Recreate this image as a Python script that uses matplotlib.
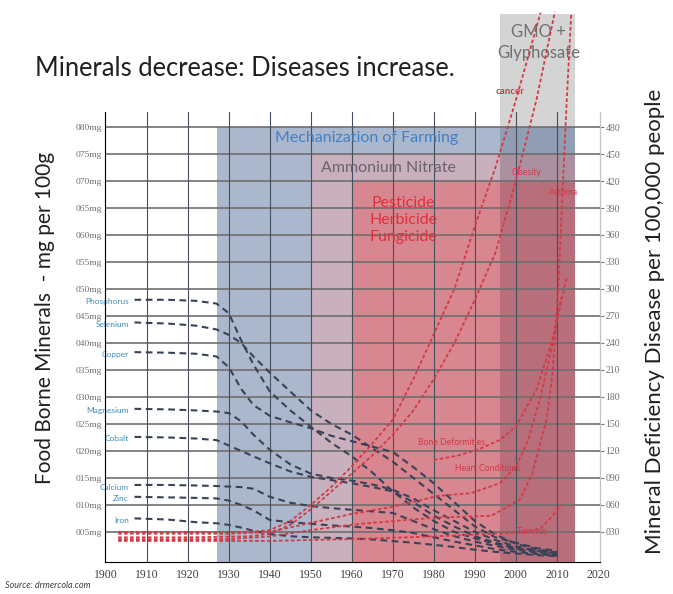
import numpy as np
import matplotlib
import matplotlib.pyplot as plt

matplotlib.use("Agg")

# ---- data ----
decade_ticks = [1900, 1910, 1920, 1930, 1940, 1950, 1960, 1970, 1980, 1990, 2000, 2010, 2020]
mg_ticks = [5, 10, 15, 20, 25, 30, 35, 40, 45, 50, 55, 60, 65, 70, 75, 80]
mg_labels = ["%03dmg" % v for v in mg_ticks]
disease_ticks = [30, 60, 90, 120, 150, 180, 210, 240, 270, 300, 330, 360, 390, 420, 450, 480]
disease_labels = ["%03d" % v for v in disease_ticks]

# eras: (start year, end year, top in mg)
era_names = ["Mechanization of Farming", "Ammonium Nitrate", "Pesticide\nHerbicide\nFungicide"]
era_start = [1927, 1950, 1960]
era_end = [2014.4, 2014.4, 2014.4]
era_top = [80, 75, 70]
era_colors = ["#abb7cc", "#c8b0bc", "#d8868f"]
gmo_start, gmo_end, gmo_top = 1996, 2014.4, 101
gmo_colors = ["#919db3", "#ab919f", "#b96e7b"]  # over each era band

mineral_years = [1907, 1915, 1922, 1927, 1930, 1933, 1936, 1940, 1945, 1950, 1955,
                 1960, 1965, 1970, 1975, 1980, 1985, 1990, 1995, 2000, 2005, 2010]
phosphorus = [48, 48, 47.8, 47.3, 45.5, 40.5, 36, 31, 27.5, 24.5, 21.5, 19, 16, 12.5, 9.5, 7, 5, 3.8, 2.8, 2, 1.5, 1.2]
selenium = [43.8, 43.6, 43.2, 42.5, 41.5, 40, 37.5, 34.5, 31, 27.5, 25, 23, 20.5, 18, 15, 12, 9, 6, 4, 3, 2, 1.5]
copper = [38.3, 38.2, 38, 37.5, 35.5, 31.5, 28.5, 26.5, 25.3, 24.2, 22.8, 21.8, 20.8, 19.8, 17, 14, 10.5, 7, 4.5, 2.8, 1.8, 1.2]
magnesium = [27.8, 27.7, 27.5, 27.3, 27, 25.5, 23, 20.2, 17.5, 15.8, 15, 14.5, 13.8, 12.8, 11.2, 9, 7, 5, 3.5, 2.3, 1.5, 1]
cobalt = [22.6, 22.5, 22.3, 22, 21, 20, 19, 17.7, 16.2, 15.2, 14.6, 14, 13.3, 12.5, 10.5, 8, 6, 4.2, 3, 2, 1.3, 0.9]
calcium = [13.7, 13.7, 13.6, 13.5, 13.4, 13.3, 13, 11.5, 10.4, 9.8, 9.4, 9.1, 8.8, 8.5, 7, 5.5, 4.2, 3.2, 2.4, 1.7, 1.2, 0.8]
zinc = [11.5, 11.4, 11.3, 11.2, 10.8, 10, 9, 7.2, 6.8, 6.5, 6.2, 6, 5.7, 5.3, 4.8, 4, 3.2, 2.5, 1.8, 1.3, 0.9, 0.6]
iron = [7.5, 7.3, 6.8, 6.6, 6.3, 5.8, 5.2, 4.6, 4.2, 4, 3.9, 3.8, 3.6, 3.3, 3, 2.6, 2.2, 1.7, 1.3, 1, 0.7, 0.5]
mineral_names = ["Phosphorus", "Selenium", "Copper", "Magnesium", "Cobalt", "Calcium", "Zinc", "Iron"]
mineral_values = [phosphorus, selenium, copper, magnesium, cobalt, calcium, zinc, iron]

# diseases per 100,000 people (right axis)
cancer_years = [1903, 1920, 1935, 1940, 1945, 1950, 1955, 1960, 1965, 1970, 1975, 1980, 1985, 1990, 1995, 2000, 2006]
cancer = [30, 30, 30, 32, 42, 60, 80, 103, 128, 155, 200, 250, 300, 370, 435, 510, 607]
obesity_years = [1903, 1920, 1935, 1940, 1945, 1950, 1955, 1960, 1965, 1970, 1975, 1980, 1985, 1990, 1995, 2000, 2005, 2009.5]
obesity = [24, 24, 25, 28, 38, 55, 75, 95, 115, 138, 165, 200, 240, 288, 340, 420, 510, 608]
asthma_years = [1903, 1930, 1940, 1950, 1960, 1970, 1981, 1994, 1998, 2001, 2004, 2006, 2007.5, 2009, 2010.3, 2011.3, 2012.4, 2013.5]
asthma = [22, 22, 25, 32, 38, 42, 46, 48, 58, 66, 95, 130, 155, 210, 300, 400, 510, 607]
heart_years = [1903, 1930, 1940, 1950, 1960, 1970, 1981, 1989, 1996, 2000, 2003, 2006, 2009, 2011]
heart = [28, 28, 30, 40, 50, 58, 70, 73, 84, 102, 132, 180, 240, 290]
bone_years = [1980, 1986, 1991, 1996, 2000, 2005, 2009, 2012.4]
bone = [110, 115, 122, 132, 147, 188, 245, 313]
tinnitus_years = [1903, 1940, 1960, 1980, 1995, 2003, 2006, 2009, 2011]
tinnitus = [20, 20, 22, 25, 28, 30, 34, 48, 60]
disease_years = [cancer_years, obesity_years, asthma_years, heart_years, bone_years, tinnitus_years]
disease_values = [cancer, obesity, asthma, heart, bone, tinnitus]
disease_names = ["cancer", "Obesity", "Asthma", "Heart Conditions", "Bone Deformities", "Tinnitus"]
disease_label_pos = [(1998.5, 519), (2002.7, 429), (2011.5, 407), (1993.2, 101), (1984.4, 129), (2003.9, 30)]

fig = plt.figure(figsize=(6.73, 5.94), dpi=100)
ax = fig.add_axes([0.156, 0.054, 0.7355, 0.7576])
ax.set_xlim(1899.8, 2020.5)
ax.set_ylim(-0.56, 82.8)

# shaded eras
for s, e, top, c in zip(era_start, era_end, era_top, era_colors):
    ax.fill_between([s, e], -0.56, top, color=c, lw=0, zorder=0)
ax.fill_between([gmo_start, gmo_end], -0.56, era_top[2], color=gmo_colors[2], lw=0, zorder=0.5)
ax.fill_between([gmo_start, gmo_end], era_top[2], era_top[1], color=gmo_colors[1], lw=0, zorder=0.5)
ax.fill_between([gmo_start, gmo_end], era_top[1], era_top[0], color=gmo_colors[0], lw=0, zorder=0.5)
ax.fill_between([gmo_start, gmo_end], era_top[0], gmo_top, color="#d4d4d4", lw=0, zorder=0.5,
                clip_on=False)

# grid
for y in mg_ticks:
    ax.axhline(y, color="#6e6e6e", lw=1.2, zorder=1)
for x in decade_ticks[1:-1]:
    ax.axvline(x, color="#45505e", lw=0.8, zorder=1)

# minerals
for name, vals in zip(mineral_names, mineral_values):
    ax.plot(mineral_years, vals, color="#3a4258", lw=1.5, ls=(0, (3.2, 2.2)), zorder=3)
    ax.annotate(name, (mineral_years[0], vals[0]), xytext=(-4, -1.5), textcoords="offset points",
                ha="right", va="center", fontsize=6, color="#3f8dbf", family="Lato")

ax.set_xticks(decade_ticks)
ax.set_xticklabels([str(v) for v in decade_ticks], family="Liberation Serif", fontsize=8.5, color="#404040")
ax.set_yticks(mg_ticks)
ax.set_yticklabels(mg_labels, family="Liberation Serif", fontsize=6.8, color="#707070")
ax.tick_params(axis="both", length=0, pad=2)
ax.tick_params(axis="x", pad=5)
for side in ["left", "bottom", "right"]:
    ax.spines[side].set_color("#bfc4c8")
ax.spines["top"].set_visible(False)

ax2 = ax.twinx()
ax2.set_ylim(-0.56 * 6, 82.8 * 6)
ax2.set_yticks(disease_ticks)
ax2.set_yticklabels(disease_labels, family="Liberation Serif", fontsize=7, color="#707070")
ax2.tick_params(axis="y", length=3, color="#808080", pad=1)
ax2.spines["top"].set_visible(False)
ax2.spines["right"].set_color("#bfc4c8")

for yrs, vals in zip(disease_years, disease_values):
    ax2.plot(yrs, vals, color="#d23a46", lw=1.3, ls=(0, (2, 1.3)), zorder=4, clip_on=False)
for name, (x, y) in zip(disease_names, disease_label_pos):
    ax2.text(x, y, name, ha="center", va="center", fontsize=7 if name == "cancer" else 6.2,
             color="#d03a48", family="Lato", fontweight="bold" if name == "cancer" else "normal")

# era labels
ax.text(1963.5, 78, era_names[0], ha="center", va="center", fontsize=11.5, color="#3f82c8", family="Lato")
ax.text(1969, 72.5, era_names[1], ha="center", va="center", fontsize=11.5, color="#6a6470", family="Lato")
ax.text(1972.5, 62.8, era_names[2], ha="center", va="center", fontsize=11.5, color="#e0303c",
        family="Lato", linespacing=1.3)
ax.text(2005.5, 95.7, "GMO +\nGlyphosate", ha="center", va="center", fontsize=12, color="#707070",
        family="Lato", clip_on=False, linespacing=1.35)

fig.text(45 / 673, 1 - 318 / 594, "Food Borne Minerals  - mg per 100g", rotation=90,
         ha="center", va="center", family="Lato", fontsize=15, color="#202020")
fig.text(655 / 673, 1 - 321 / 594, "Mineral Deficiency Disease per 100,000 people", rotation=90,
         ha="center", va="center", family="Lato", fontsize=16, color="#202020")
fig.text(0.052, 0.8855, "Minerals decrease: Diseases increase.", fontsize=18.4, family="Lato",
         va="center", color="#202020")
fig.text(0.008, 0.01, "Source: drmercola.com", fontsize=6.5, style="italic", family="Lato", color="#404040")

fig.savefig("out.png", dpi=100)
